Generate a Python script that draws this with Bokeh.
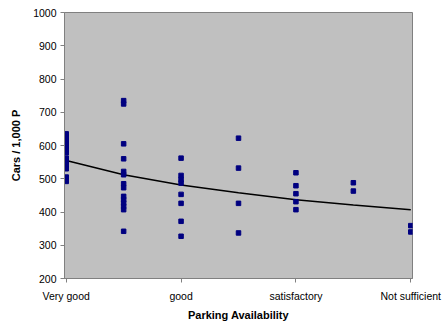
from bokeh.plotting import figure
from bokeh.embed import file_html
from bokeh.resources import INLINE
from bokeh.models import FixedTicker, ColumnDataSource, Range1d

# --- data ---
categories = ["Very good", "", "good", "", "satisfactory", "", "Not sufficient"]
vals_1 = [635, 625, 615, 607, 598, 588, 578, 562, 552, 542, 530, 505, 492]
vals_2 = [735, 725, 605, 560, 522, 512, 485, 473, 447, 437, 427, 417, 407, 342]
vals_3 = [562, 510, 498, 487, 453, 426, 372, 327]
vals_4 = [622, 532, 426, 337]
vals_5 = [518, 479, 455, 431, 407]
vals_6 = [488, 463]
vals_7 = [359, 340]
trend_y = [555, 512, 481, 458, 437, 421, 407]
y_ticks = [200, 300, 400, 500, 600, 700, 800, 900, 1000]

all_vals = [vals_1, vals_2, vals_3, vals_4, vals_5, vals_6, vals_7]
xs, ys = [], []
for i, vs in enumerate(all_vals):
    for v in vs:
        xs.append(i + 1)
        ys.append(v)
src = ColumnDataSource(dict(x=xs, y=ys))
trend_x = list(range(1, len(categories) + 1))

FONT = "Liberation Sans"

p = figure(width=443, height=324, output_backend="svg", toolbar_location=None,
           x_range=Range1d(0.97, 7.03), y_range=Range1d(200, 1000),
           min_border_left=64, min_border_right=31, min_border_top=12, min_border_bottom=46)
p.background_fill_color = "#C0C0C0"
p.border_fill_color = "white"
p.outline_line_color = "#808080"
p.outline_line_width = 1
p.grid.visible = False

p.line(trend_x, trend_y, line_color="black", line_width=1.6)
p.scatter("x", "y", source=src, marker="square", size=4.5,
          fill_color="#000080", line_color="#000080")

tick_pos = [i + 1 for i, c in enumerate(categories) if c]
p.xaxis.ticker = FixedTicker(ticks=tick_pos)
p.xaxis.major_label_overrides = {i + 1: c for i, c in enumerate(categories) if c}
p.yaxis.ticker = FixedTicker(ticks=y_ticks)

p.xaxis.axis_label = "Parking Availability"
p.yaxis.axis_label = "Cars / 1,000 P"
for ax in (p.xaxis[0], p.yaxis[0]):
    ax.axis_line_color = "#808080"
    ax.major_tick_line_color = "#808080"
    ax.major_tick_out = 4
    ax.major_tick_in = 0
    ax.minor_tick_line_color = None
    ax.major_label_text_font = FONT
    ax.major_label_text_font_size = "10.5px"
    ax.major_label_text_color = "#000000"
    ax.axis_label_text_font = FONT
    ax.axis_label_text_font_size = "11px"
    ax.axis_label_text_font_style = "bold"
    ax.axis_label_text_color = "#000000"
p.xaxis.major_label_standoff = 7
p.xaxis.axis_label_standoff = 4
p.yaxis.major_label_standoff = 4
p.yaxis.axis_label_standoff = 8

open("out.html", "w").write(file_html(p, INLINE))
